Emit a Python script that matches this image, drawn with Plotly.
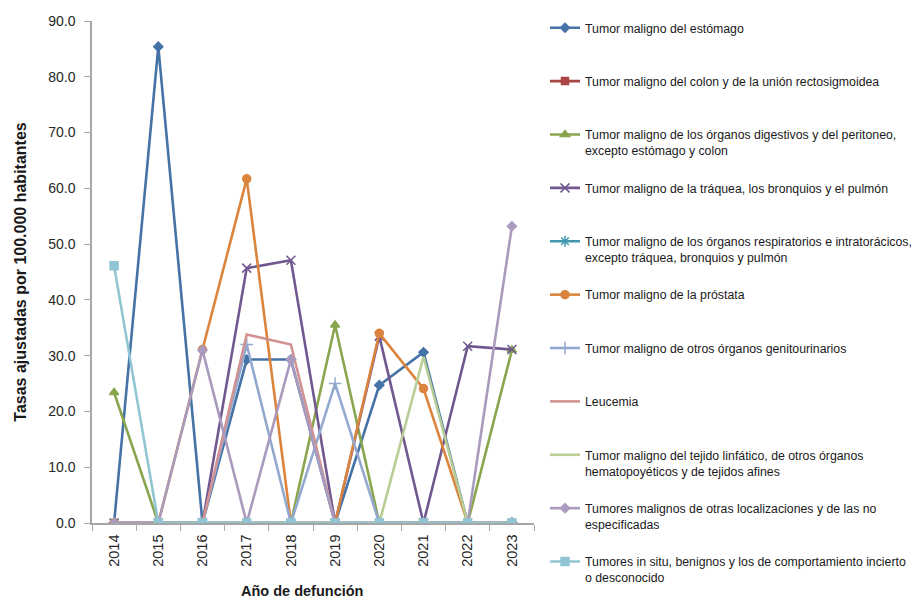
import plotly.graph_objects as go

years = ["2014", "2015", "2016", "2017", "2018", "2019", "2020", "2021", "2022", "2023"]

estomago = [0, 85.4, 0, 29.3, 29.3, 0, 24.7, 30.6, 0, 0]
colon = [0, 0, 0, 0, 0, 0, 0, 0, 0, 0]
digestivos = [23.4, 0, 0, 0, 0, 35.5, 0, 0, 0, 31.0]
traquea = [0, 0, 0, 45.7, 47.1, 0, 33.5, 0, 31.7, 31.1]
respiratorios = [0, 0, 0, 0, 0, 0, 0, 0, 0, 0]
prostata = [0, 0, 31.1, 61.7, 0, 0, 34.0, 24.1, 0, 0]
genitourinarios = [0, 0, 0, 32.0, 0, 25.0, 0, 0, 0, 0]
leucemia = [0, 0, 0, 33.8, 32.0, 0, 0, 0, 0, 0]
linfatico = [0, 0, 0, 0, 0, 0, 0, 29.8, 0, 0]
otras = [0, 0, 31.0, 0, 29.3, 0, 0, 0, 0, 53.2]
in_situ = [46.1, 0, 0, 0, 0, 0, 0, 0, 0, 0]

names = [
    "Tumor maligno del estómago",
    "Tumor maligno del colon y de la unión rectosigmoidea",
    "Tumor maligno de los órganos digestivos y del peritoneo,<br>excepto estómago y colon",
    "Tumor maligno de la tráquea, los bronquios y el pulmón",
    "Tumor maligno de los órganos respiratorios e intratorácicos,<br>excepto tráquea, bronquios y pulmón",
    "Tumor maligno de la próstata",
    "Tumor maligno de otros órganos genitourinarios",
    "Leucemia",
    "Tumor maligno del tejido linfático, de otros órganos<br>hematopoyéticos y de tejidos afines",
    "Tumores malignos de otras localizaciones y de las no<br>especificadas",
    "Tumores in situ, benignos y los de comportamiento incierto<br>o desconocido",
]
series = [estomago, colon, digestivos, traquea, respiratorios, prostata,
          genitourinarios, leucemia, linfatico, otras, in_situ]
colors = ["#4572A7", "#AA4643", "#89A54E", "#71588F", "#4198AF", "#DB843D",
          "#93A9CF", "#D19392", "#B9CD96", "#A99BBD", "#92C5D3"]
symbols = ["diamond", "square", "triangle-up", "x-thin-open", "asterisk-open", "circle",
           "cross-thin-open", None, None, "diamond", "square"]
sizes = [7, 7, 8, 9, 9, 8, 9, 0, 0, 7, 8]

x_title = "Año de defunción"
y_title = "Tasas ajustadas por 100.000 habitantes"

fig = go.Figure()
for i, (nm, ys, c, s, sz) in enumerate(zip(names, series, colors, symbols, sizes)):
    label = nm if "<br>" in nm else nm + "<br> "
    if s is None:
        fig.add_trace(go.Scatter(x=years, y=ys, name=label, mode="lines",
                                 line=dict(color=c, width=2.6), legendgroup=str(i)))
    else:
        fig.add_trace(go.Scatter(x=years, y=ys, name=label, mode="lines+markers",
                                 line=dict(color=c, width=2.6),
                                 marker=dict(symbol=s, size=sz, color=c,
                                             line=dict(color=c, width=1.5)),
                                 legendgroup=str(i)))

fig.update_layout(
    width=915, height=602,
    margin=dict(l=92, r=381, t=21, b=79),
    paper_bgcolor="white", plot_bgcolor="white",
    font=dict(family="Liberation Sans, Arial, sans-serif", size=14, color="#262626"),
    showlegend=True,
    legend=dict(
        xref="container", yref="container",
        x=545 / 915, y=0.978, xanchor="left", yanchor="top",
        valign="top",
        font=dict(size=12.3, color="#1a1a1a"),
        tracegroupgap=18.4,
        itemwidth=30,
        maxheight=600,
        bgcolor="rgba(0,0,0,0)",
    ),
    xaxis=dict(
        type="category", range=[-0.5, 9.5],
        showline=True, linecolor="#A6A6A6", linewidth=1.5,
        ticks="outside", tickson="boundaries", ticklen=6, tickcolor="#A6A6A6",
        tickangle=-90, showgrid=False, zeroline=False,
        ticklabelstandoff=4,
        tickfont=dict(size=14.5, color="#262626"),
    ),
    yaxis=dict(
        range=[0, 90], dtick=10, tickformat=".1f",
        showline=True, linecolor="#A6A6A6", linewidth=1.5,
        ticks="outside", ticklen=6, tickcolor="#A6A6A6",
        showgrid=False, zeroline=False,
        ticklabelstandoff=6,
        tickfont=dict(size=14, color="#262626"),
        title=dict(text="<b>" + y_title + "</b>", font=dict(size=16, color="#1a1a1a"), standoff=18),
    ),
    annotations=[dict(
        text="<b>" + x_title + "</b>", xref="paper", yref="paper",
        x=(302 - 92) / 442, y=0, xanchor="center", yanchor="middle",
        yshift=-68, showarrow=False, font=dict(size=14.5, color="#1a1a1a"),
    )],
)

fig.write_html("out.html", config={"displayModeBar": False},
               post_script="document.body.style.margin='0';")
